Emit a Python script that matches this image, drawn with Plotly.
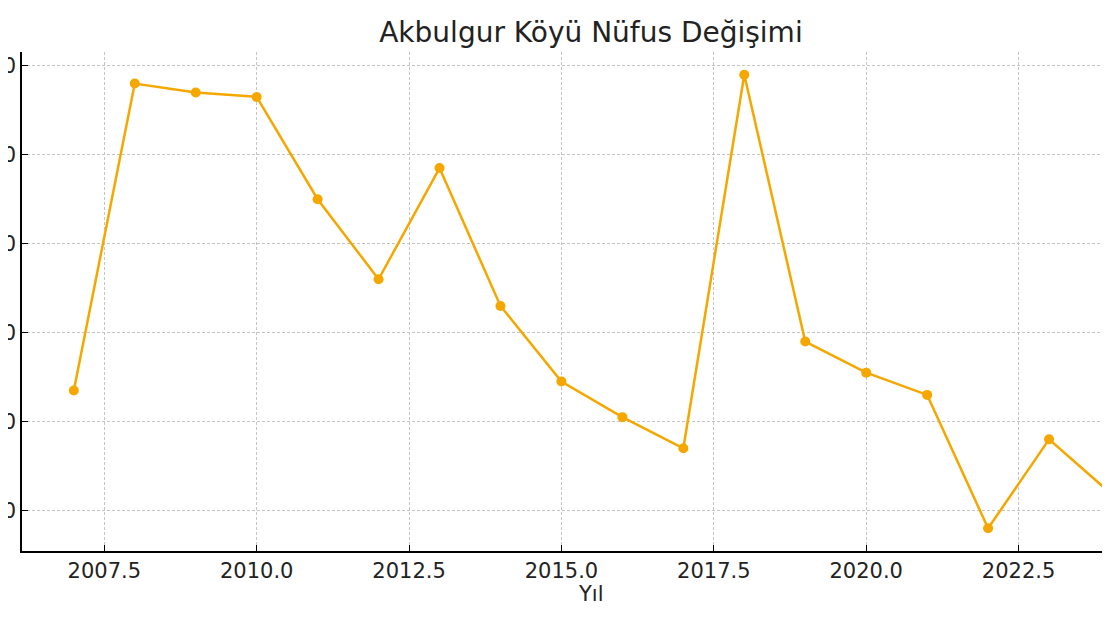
import plotly.graph_objects as go

# Data
years = list(range(2007, 2025))
population = [187, 256, 254, 253, 230, 212, 237, 206, 189, 181, 174, 258, 198, 191, 186, 156, 176, 164]

title_text = "Akbulgur Köyü Nüfus Değişimi"
x_label = "Yıl"

orange = "#F5A700"

fig = go.Figure()
fig.add_trace(go.Scatter(
    x=years, y=population,
    mode="lines+markers",
    line=dict(color=orange, width=2.5),
    marker=dict(color=orange, size=10),
    cliponaxis=True,
    showlegend=False,
))

# the page body adds an 8px offset at the top left
# title / x label are centred on the original (wider) figure, not the plot area
fig.update_layout(
    template="none",
    width=1102, height=609,
    paper_bgcolor="white", plot_bgcolor="white",
    margin=dict(l=14, r=0, t=44, b=66),
    font=dict(family="DejaVu Sans", color="#222222", size=21),
    title=dict(text=title_text, xref="container", x=0.529, xanchor="center",
               y=0.961, yanchor="middle",
               font=dict(size=28, family="DejaVu Sans", color="#222222")),
)

fig.add_annotation(
    text=x_label, xref="paper", yref="paper", x=0.523, y=-0.086,
    xanchor="center", yanchor="middle", showarrow=False,
    font=dict(size=21, family="DejaVu Sans", color="#222222"),
)

grid = dict(showgrid=True, gridcolor="#c4c4c4", griddash="3px,2px", gridwidth=1)

fig.update_xaxes(
    range=[2006.15, 2024.0],
    tick0=2007.5, dtick=2.5, tickformat=".1f",
    showline=True, linecolor="black", linewidth=1.5, mirror=False,
    ticks="inside", ticklen=6, tickwidth=1.3, tickcolor="black",
    zeroline=False, automargin=False,
    tickfont=dict(size=21),
    **grid,
)
fig.update_yaxes(
    range=[150.9, 263.1],
    tick0=160, dtick=20,
    showline=True, linecolor="black", linewidth=1.5, mirror=False,
    ticks="inside", ticklen=6, tickwidth=1.3, tickcolor="black",
    zeroline=False, automargin=False,
    tickfont=dict(size=21),
    **grid,
)

fig.write_html("out.html")
